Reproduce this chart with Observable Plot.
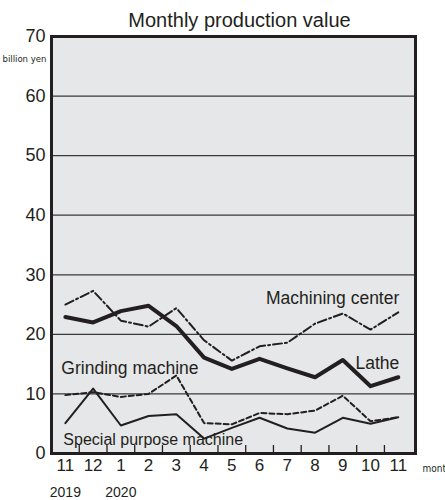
<!DOCTYPE html>
<html>
<head>
<meta charset="utf-8">
<script src="https://cdn.jsdelivr.net/npm/d3@7"></script>
<script src="https://cdn.jsdelivr.net/npm/@observablehq/plot@0.6"></script>
<style>
  html, body { margin: 0; padding: 0; background: white; overflow: hidden; }
</style>
</head>
<body>
<div id="chart"></div>
<script>
// ---- data ----
const monthLabels = ["11","12","1","2","3","4","5","6","7","8","9","10","11"];
const yearLabels = ["2019","","2020","","","","","","","","","",""];
const lathe     = [22.9, 22.0, 23.9, 24.8, 21.4, 16.1, 14.2, 15.9, 14.3, 12.8, 15.7, 11.3, 12.8];
const machining = [25.0, 27.3, 22.3, 21.3, 24.4, 19.0, 15.6, 18.0, 18.6, 21.8, 23.5, 20.8, 23.7];
const grinding  = [9.8, 10.3, 9.5, 10.0, 13.1, 5.1, 4.9, 6.8, 6.6, 7.2, 9.7, 5.4, 6.1];
const special   = [5.1, 10.9, 4.7, 6.3, 6.6, 2.5, 4.3, 6.0, 4.2, 3.5, 6.0, 5.0, 6.1];
const yTicks = [0, 10, 20, 30, 40, 50, 60, 70];
const gridValues = [10, 20, 30, 40, 50, 60];
const title = "Monthly production value";
const unitLabel = "billion yen";
const xUnitLabel = "month";

const idx = d3.range(monthLabels.length);
const toRows = (vals) => vals.map((v, i) => ({i, v}));
const rowsLathe = toRows(lathe), rowsMach = toRows(machining), rowsGrind = toRows(grinding), rowsSpec = toRows(special);
const mids = d3.range(monthLabels.length - 1).map(i => i + 0.5);

const ink = "#231f20";
const font = "'Liberation Sans', Arial, Helvetica, sans-serif";
const narrow = "'Liberation Sans Narrow', 'DejaVu Sans Condensed', 'Liberation Sans', sans-serif";

const chart = Plot.plot({
  width: 445,
  height: 500,
  marginTop: 36,
  marginBottom: 47,
  marginLeft: 51,
  marginRight: 30,
  style: {fontFamily: font, color: ink, background: "white", overflow: "visible"},
  x: {domain: [-0.5, 12.62], axis: null},
  y: {domain: [0, 70], axis: null},
  marks: [
    Plot.frame({fill: "#e6e7e8"}),
    Plot.ruleY(gridValues, {stroke: "#3a3a3a", strokeWidth: 1.3}),
    Plot.tickX(mids, {x: d => d, insetTop: 409, stroke: ink, strokeWidth: 1.3}),
    Plot.axisY(yTicks, {label: null, tickSize: 0, tickPadding: 6, fontSize: 18, fill: ink}),
    Plot.axisX(idx, {label: null, tickSize: 0, tickPadding: 5, fontSize: 17, fill: ink, tickFormat: i => monthLabels[i]}),
    Plot.axisX(idx.filter(i => yearLabels[i]), {label: null, tickSize: 0, tickPadding: 34, fontSize: 14, fill: ink, tickFormat: i => yearLabels[i]}),
    Plot.line(rowsSpec, {x: "i", y: "v", stroke: ink, strokeWidth: 2}),
    Plot.line(rowsGrind, {x: "i", y: "v", stroke: ink, strokeWidth: 2, strokeDasharray: "5,3"}),
    Plot.line(rowsMach, {x: "i", y: "v", stroke: ink, strokeWidth: 2, strokeDasharray: "9,3,2,3"}),
    Plot.line(rowsLathe, {x: "i", y: "v", stroke: ink, strokeWidth: 4}),
    Plot.text(rowsMach.slice(-1), {x: "i", y: "v", text: () => "Machining center", textAnchor: "end", dx: 1, dy: -14, fontSize: 17.5, fill: ink}),
    Plot.text(rowsLathe.slice(-1), {x: "i", y: "v", text: () => "Lathe", textAnchor: "end", dx: 1, dy: -14, fontSize: 17.5, fill: ink}),
    Plot.text(rowsGrind.slice(0, 1), {x: "i", y: "v", text: () => "Grinding machine", textAnchor: "start", dx: -4, dy: -27, fontSize: 17.5, fill: ink}),
    Plot.text(rowsSpec.slice(0, 1), {x: "i", y: "v", text: () => "Special purpose machine", textAnchor: "start", dx: -2, dy: 17, fontSize: 16, fill: ink}),
    Plot.text([title], {frameAnchor: "top", dx: 6, dy: -24, fontSize: 20, fill: ink}),
    Plot.text([unitLabel], {frameAnchor: "top-left", dx: -5, dy: 19, textAnchor: "end", fontSize: 9.5, fontFamily: narrow, fill: ink}),
    Plot.text([xUnitLabel], {frameAnchor: "bottom-right", dx: 7, dy: 18, textAnchor: "start", fontSize: 10, fontFamily: narrow, fill: ink}),
    Plot.frame({stroke: ink, strokeWidth: 3})
  ]
});
document.getElementById("chart").append(chart);
</script>
</body>
</html>
